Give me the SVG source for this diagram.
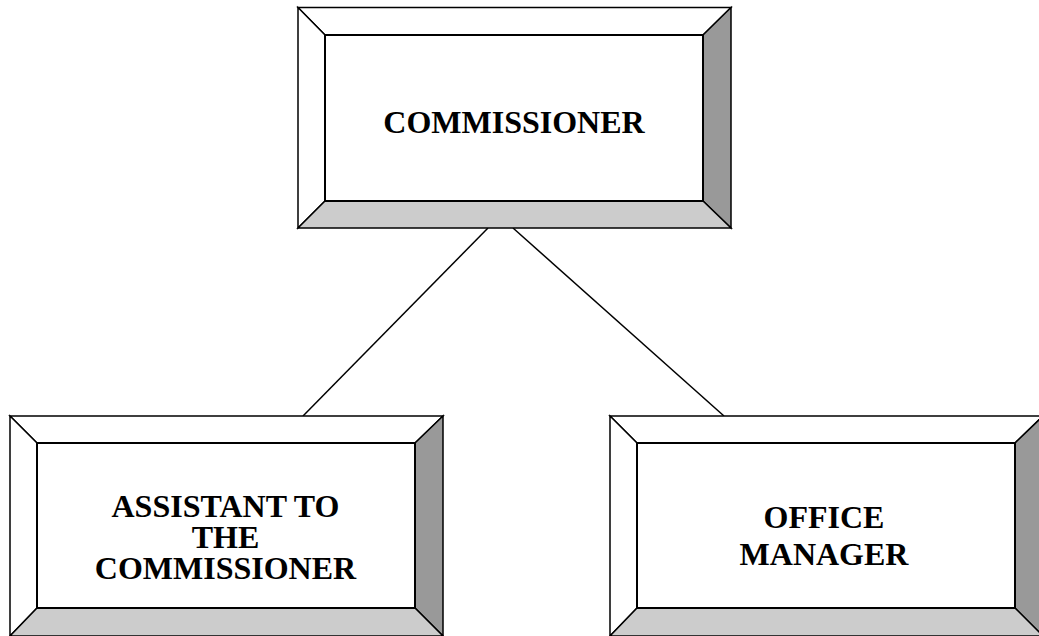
<svg xmlns="http://www.w3.org/2000/svg" width="1039" height="636" viewBox="0 0 1039 636">
  <style>
    .face { stroke: #000; stroke-width: 1.5; stroke-linejoin: miter; }
    .light { fill: #fff; }
    .side { fill: #999; }
    .base { fill: #ccc; }
    .inner { fill: #fff; stroke: #000; stroke-width: 2; }
    .label { font-family: "Liberation Serif", "Times New Roman", serif; font-weight: bold; font-size: 32px; fill: #000; text-anchor: middle; }
    .link { stroke: #000; stroke-width: 1.5; fill: none; }
  </style>
  <rect width="1039" height="636" fill="#fff"/>

  <!-- reporting lines -->
  <g id="connectors">
    <line class="link" x1="488" y1="228" x2="303" y2="416"/>
    <line class="link" x1="513" y1="228" x2="724" y2="416"/>
  </g>

  <!-- bevelled box: outer 298,7.5 – 731,228; inner 325,35 – 703,201 -->
  <g id="commissioner">
    <polygon class="face light" points="298,7.5 731,7.5 703,35 325,35"/>
    <polygon class="face light" points="298,7.5 325,35 325,201 298,228"/>
    <polygon class="face side" points="731,7.5 731,228 703,201 703,35"/>
    <polygon class="face base" points="298,228 325,201 703,201 731,228"/>
    <rect class="inner" x="325" y="35" width="378" height="166"/>
    <text class="label" x="514" y="133">COMMISSIONER</text>
  </g>

  <g id="assistant">
    <polygon class="face light" points="10,416 443,416 415,443 37,443"/>
    <polygon class="face light" points="10,416 37,443 37,608 10,636"/>
    <polygon class="face side" points="443,416 443,636 415,608 415,443"/>
    <polygon class="face base" points="10,636 37,608 415,608 443,636"/>
    <rect class="inner" x="37" y="443" width="378" height="165"/>
    <text class="label" x="225.5" y="517">ASSISTANT TO</text>
    <text class="label" x="225.5" y="548">THE</text>
    <text class="label" x="225.5" y="579">COMMISSIONER</text>
  </g>

  <g id="office-manager">
    <polygon class="face light" points="610,416 1043,416 1015,443 637,443"/>
    <polygon class="face light" points="610,416 637,443 637,608 610,636"/>
    <polygon class="face side" points="1043,416 1043,636 1015,608 1015,443"/>
    <polygon class="face base" points="610,636 637,608 1015,608 1043,636"/>
    <rect class="inner" x="637" y="443" width="378" height="165"/>
    <text class="label" x="824" y="528">OFFICE</text>
    <text class="label" x="824" y="565">MANAGER</text>
  </g>
</svg>
